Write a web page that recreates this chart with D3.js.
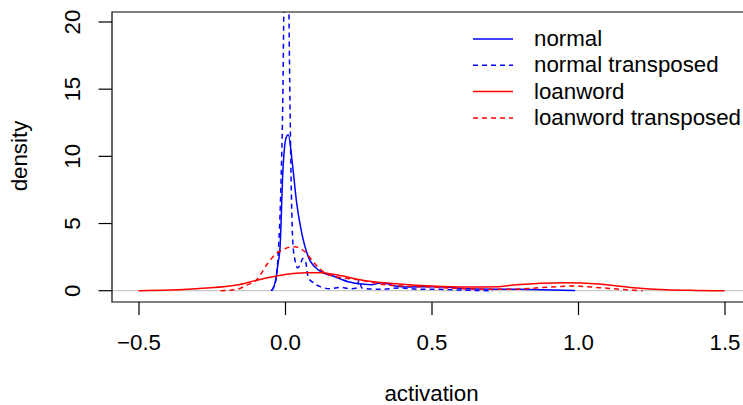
<!DOCTYPE html>
<html>
<head>
<meta charset="utf-8">
<script src="https://cdn.jsdelivr.net/npm/d3@7"></script>
<style>
  body { margin: 0; background: #fff; }
  svg text { font-family: "Liberation Sans", Arial, sans-serif; fill: #000; }
</style>
</head>
<body>
<div id="chart"></div>
<script>

// density estimates: [activation, density]
var normal = [
  [-0.048, 0], [-0.038, 0.3], [-0.031, 0.9], [-0.024, 2.0], [-0.017, 3.2], [-0.007, 9.0],
  [0.004, 11.4], [0.011, 11.6], [0.025, 9.5], [0.040, 6.5], [0.057, 4.3], [0.080, 2.5],
  [0.114, 1.55], [0.171, 1.04], [0.215, 0.67], [0.263, 0.5], [0.297, 0.45], [0.331, 0.6],
  [0.376, 0.35], [0.42, 0.28], [0.512, 0.3], [0.63, 0.15], [0.80, 0.1], [0.99, 0.02]
];
var normalTransposed = [
  [-0.045, 0], [-0.038, 0.3], [-0.031, 0.8], [-0.023, 2.8], [-0.014, 7.7], [-0.007, 15],
  [-0.002, 25], [0.004, 30], [0.011, 25], [0.017, 14], [0.022, 7], [0.027, 3.5],
  [0.034, 2.3], [0.043, 1.7], [0.051, 1.9], [0.061, 2.4], [0.07, 2.2], [0.079, 1.0],
  [0.096, 0.6], [0.12, 0.3], [0.154, 0.15], [0.188, 0.25], [0.222, 0.15], [0.245, 0.2],
  [0.253, 0.8], [0.262, 0.2], [0.324, 0.1], [0.393, 0.2], [0.461, 0.1], [0.529, 0.1],
  [0.597, 0.05], [0.71, 0]
];
var loanword = [
  [-0.5, 0], [-0.393, 0.05], [-0.28, 0.18], [-0.165, 0.42], [-0.102, 0.75], [-0.05, 1.0],
  [0.0, 1.2], [0.07, 1.33], [0.125, 1.33], [0.17, 1.2], [0.28, 0.72], [0.39, 0.5],
  [0.50, 0.35], [0.62, 0.27], [0.73, 0.3], [0.79, 0.45], [0.96, 0.6], [1.07, 0.5],
  [1.19, 0.22], [1.30, 0.07], [1.40, 0.02], [1.5, 0]
];
var loanwordTransposed = [
  [-0.22, 0], [-0.165, 0.1], [-0.13, 0.42], [-0.097, 0.8], [-0.06, 2.0], [-0.028, 2.8],
  [0.034, 3.27], [0.068, 2.9], [0.102, 2.0], [0.137, 1.3], [0.171, 1.05], [0.239, 0.85],
  [0.352, 0.42], [0.466, 0.3], [0.58, 0.18], [0.757, 0.1], [0.87, 0.22], [0.983, 0.35],
  [1.075, 0.22], [1.16, 0.08], [1.22, 0]
];

var xTicks = [-0.5, 0, 0.5, 1, 1.5];
var yTicks = [0, 5, 10, 15, 20];
var legendLabels = ["normal", "normal transposed", "loanword", "loanword transposed"];

var series = [
  { data: normal, colour: "#0000ff", dash: null },
  { data: normalTransposed, colour: "#0000ff", dash: "5,4" },
  { data: loanword, colour: "#ff0000", dash: null },
  { data: loanwordTransposed, colour: "#ff0000", dash: "5,4" }
];

var width = 743, height = 405;
var fontSize = 22.3;
var plotLeft = 112, plotTop = 12, plotBottom = 302, plotRight = 760;

var x = d3.scaleLinear().domain([-0.5, 1.5]).range([138.5, 724.5]);
var y = d3.scaleLinear().domain([0, 20]).range([290.7, 22]);

var svg = d3.select("#chart")
    .append("svg")
    .attr("width", width)
    .attr("height", height);

svg.append("defs").append("clipPath")
    .attr("id", "plotclip")
    .append("rect")
    .attr("x", plotLeft)
    .attr("y", plotTop)
    .attr("width", plotRight - plotLeft)
    .attr("height", plotBottom - plotTop);

// zero line
svg.append("line")
    .attr("x1", plotLeft).attr("x2", plotRight)
    .attr("y1", y(0)).attr("y2", y(0))
    .attr("stroke", "#c8c8c8")
    .attr("stroke-width", 1.3);

var line = d3.line()
    .x(d => x(d[0]))
    .y(d => y(d[1]))
    .curve(d3.curveMonotoneX);

svg.append("g")
    .attr("clip-path", "url(#plotclip)")
    .selectAll("path")
    .data(series)
    .enter()
    .append("path")
    .attr("d", d => line(d.data))
    .attr("fill", "none")
    .attr("stroke", d => d.colour)
    .attr("stroke-width", 1.5)
    .attr("stroke-dasharray", d => d.dash);

// box (right side runs off the picture)
svg.append("path")
    .attr("d", "M" + plotRight + "," + plotTop + "H" + plotLeft + "V" + plotBottom + "H" + plotRight)
    .attr("fill", "none")
    .attr("stroke", "#000")
    .attr("stroke-width", 1.2);

// x axis
var xAxis = d3.axisBottom(x)
    .tickValues(xTicks)
    .tickSize(13)
    .tickPadding(20)
    .tickFormat(d => d3.format(".1f")(d).replace("-", "\u2212"));

var gx = svg.append("g")
    .attr("transform", "translate(0," + plotBottom + ")")
    .call(xAxis);
gx.select(".domain").remove();
gx.selectAll("line").attr("stroke", "#000").attr("stroke-width", 1.2);
gx.selectAll("text")
    .attr("font-size", fontSize)
    .attr("font-family", "Liberation Sans, Arial, sans-serif")
    .attr("dy", null)
    .attr("y", 48);

// y axis
svg.append("g")
    .selectAll("line")
    .data(yTicks)
    .enter()
    .append("line")
    .attr("x1", 98.5).attr("x2", plotLeft)
    .attr("y1", d => y(d)).attr("y2", d => y(d))
    .attr("stroke", "#000")
    .attr("stroke-width", 1.2);

svg.append("g")
    .selectAll("text")
    .data(yTicks)
    .enter()
    .append("text")
    .attr("transform", d => "translate(80," + y(d) + ") rotate(-90)")
    .attr("text-anchor", "middle")
    .attr("font-size", fontSize)
    .text(d => d);

// axis titles
svg.append("text")
    .attr("x", 431.5)
    .attr("y", 401)
    .attr("text-anchor", "middle")
    .attr("font-size", fontSize)
    .text("activation");

svg.append("text")
    .attr("transform", "translate(27,156) rotate(-90)")
    .attr("text-anchor", "middle")
    .attr("font-size", fontSize)
    .text("density");

// legend
var legend = svg.append("g")
    .selectAll("g")
    .data(series)
    .enter()
    .append("g")
    .attr("transform", (d, i) => "translate(473," + (39 + i * 26.3) + ")");

legend.append("line")
    .attr("x1", 0).attr("x2", 40)
    .attr("y1", 0).attr("y2", 0)
    .attr("stroke", d => d.colour)
    .attr("stroke-width", 1.5)
    .attr("stroke-dasharray", d => d.dash);

legend.append("text")
    .attr("x", 61)
    .attr("y", 7)
    .attr("font-size", fontSize)
    .text((d, i) => legendLabels[i]);

</script>
</body>
</html>
